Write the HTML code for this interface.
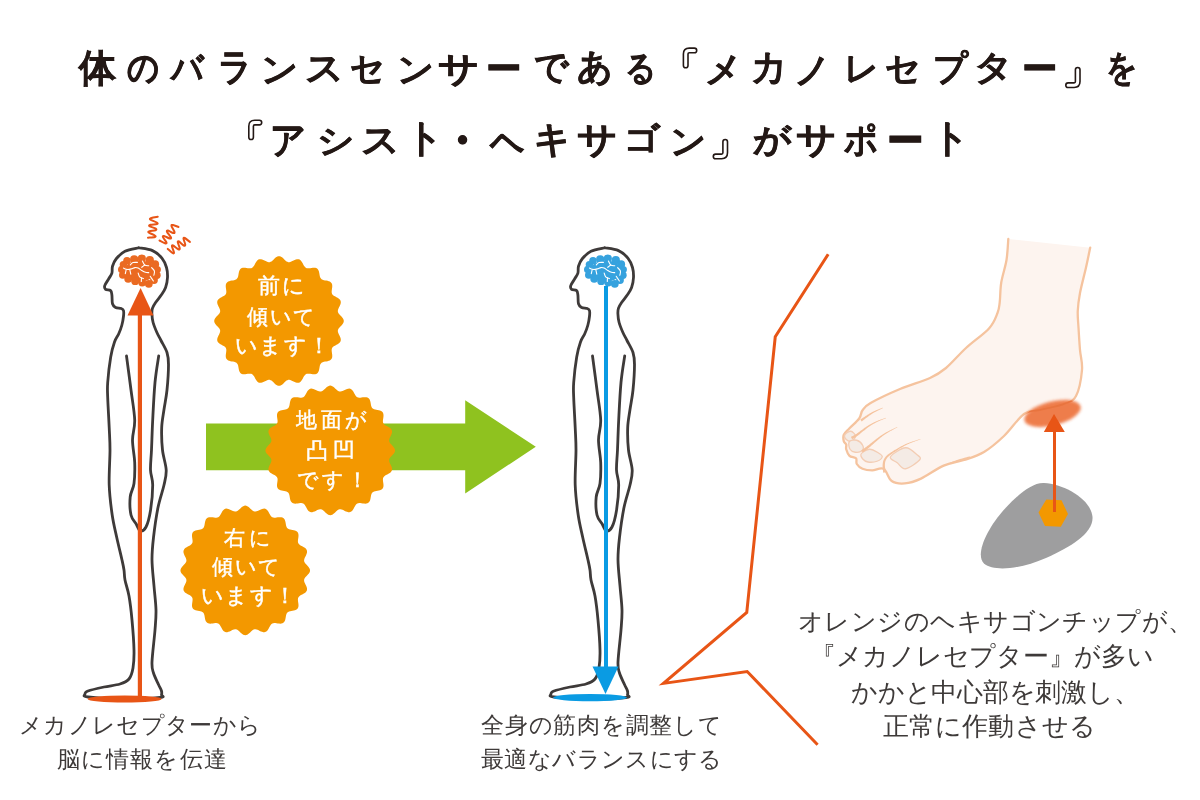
<!DOCTYPE html>
<html lang="ja"><head><meta charset="utf-8"><style>
html,body{margin:0;padding:0;background:#fff;}
body{width:1200px;height:800px;position:relative;overflow:hidden;font-family:"Liberation Sans",sans-serif;}
.t{position:absolute;font-size:100px;font-weight:bold;color:#231815;line-height:100px;transform-origin:0 0;white-space:nowrap;-webkit-text-stroke:1.5px #231815;}
.b{position:absolute;color:#fff;white-space:nowrap;-webkit-text-stroke:0.45px #fff;will-change:transform;}
.c{position:absolute;color:#3e3a39;white-space:nowrap;will-change:transform;}
</style></head><body>
<svg width="1200" height="800" viewBox="0 0 1200 800" style="position:absolute;left:0;top:0">
<path d="M206,423.5 L465.2,423.5 L465.2,400.2 L535.8,446.8 L465.2,493.5 L465.2,470.25 L206,470.25 Z" fill="#8fc21f"/>
<g><path d="M138.75,247.75 C141.04,248.22 148.64,248.88 152.50,250.60 C156.36,252.32 159.57,255.28 161.90,258.10 C164.23,260.92 165.57,264.27 166.50,267.50 C167.43,270.73 167.65,274.17 167.50,277.50 C167.35,280.83 166.64,284.58 165.60,287.50 C164.56,290.42 162.92,292.50 161.25,295.00 C159.58,297.50 157.06,300.32 155.60,302.50 C154.14,304.68 153.12,306.23 152.50,308.10 C151.88,309.98 151.80,311.35 151.90,313.75 C152.00,316.15 152.27,319.38 153.10,322.50 C153.93,325.62 155.58,329.50 156.90,332.50 C158.22,335.50 159.32,337.17 161.00,340.50 C162.68,343.83 165.75,348.50 167.00,352.50 C168.25,356.50 168.50,358.25 168.50,364.50 C168.50,370.75 167.75,382.50 167.00,390.00 C166.25,397.50 164.88,403.25 164.00,409.50 C163.12,415.75 161.95,420.75 161.70,427.50 C161.45,434.25 161.75,442.92 162.50,450.00 C163.25,457.08 165.95,464.17 166.20,470.00 C166.45,475.83 165.37,478.75 164.00,485.00 C162.63,491.25 159.75,498.75 158.00,507.50 C156.25,516.25 154.50,528.75 153.50,537.50 C152.50,546.25 151.92,551.92 152.00,560.00 C152.08,568.08 153.33,577.67 154.00,586.00 C154.67,594.33 155.83,602.67 156.00,610.00 C156.17,617.33 155.67,621.33 155.00,630.00 C154.33,638.67 152.25,654.83 152.00,662.00 C151.75,669.17 152.42,669.25 153.50,673.00 C154.58,676.75 157.17,681.50 158.50,684.50 C159.83,687.50 161.00,689.25 161.50,691.00 C162.00,692.75 161.75,693.92 161.50,695.00 C161.25,696.08 166.25,696.83 160.00,697.50 C153.75,698.17 136.00,699.08 124.00,699.00 C112.00,698.92 94.50,697.83 88.00,697.00 C81.50,696.17 85.00,695.00 85.00,694.00 C85.00,693.00 84.83,692.17 88.00,691.00 C91.17,689.83 98.67,688.17 104.00,687.00 C109.33,685.83 115.83,685.33 120.00,684.00 C124.17,682.67 126.83,681.67 129.00,679.00 C131.17,676.33 132.17,672.83 133.00,668.00 C133.83,663.17 134.17,658.00 134.00,650.00 C133.83,642.00 132.83,629.00 132.00,620.00 C131.17,611.00 130.17,602.67 129.00,596.00 C127.83,589.33 125.83,584.33 125.00,580.00 C124.17,575.67 124.50,573.33 124.00,570.00 C123.50,566.67 123.21,565.42 122.00,560.00 C120.79,554.58 118.38,545.00 116.75,537.50 C115.12,530.00 113.46,523.75 112.20,515.00 C110.94,506.25 109.57,495.83 109.20,485.00 C108.83,474.17 110.00,459.58 110.00,450.00 C110.00,440.42 109.58,436.25 109.20,427.50 C108.82,418.75 107.95,405.00 107.70,397.50 C107.45,390.00 107.20,389.25 107.70,382.50 C108.20,375.75 109.57,363.75 110.70,357.00 C111.83,350.25 113.16,345.88 114.50,342.00 C115.84,338.12 117.52,336.58 118.75,333.75 C119.98,330.92 121.11,327.92 121.90,325.00 C122.69,322.08 123.23,318.65 123.50,316.25 C123.77,313.85 123.88,311.89 123.50,310.60 C123.12,309.31 122.57,309.02 121.25,308.50 C119.93,307.98 117.06,308.29 115.60,307.50 C114.14,306.71 113.12,305.83 112.50,303.75 C111.88,301.67 112.22,297.19 111.90,295.00 C111.58,292.81 111.65,291.53 110.60,290.60 C109.55,289.67 106.57,290.23 105.60,289.40 C104.62,288.57 104.22,287.38 104.75,285.60 C105.28,283.83 107.56,280.83 108.75,278.75 C109.94,276.67 111.28,275.18 111.90,273.10 C112.53,271.02 111.78,268.64 112.50,266.25 C113.22,263.86 114.17,261.25 116.25,258.75 C118.33,256.25 121.25,253.08 125.00,251.25 C128.75,249.42 136.46,248.33 138.75,247.75" fill="none" stroke="#3e3a39" stroke-width="2.8" stroke-linejoin="round" stroke-linecap="round"/>
<path d="M126.50,356.00 C127.25,361.67 129.63,379.33 131.00,390.00 C132.37,400.67 134.45,411.67 134.70,420.00 C134.95,428.33 132.50,432.92 132.50,440.00 C132.50,447.08 134.45,455.25 134.70,462.50 C134.95,469.75 134.75,477.75 134.00,483.50 C133.25,489.25 130.70,491.75 130.20,497.00 C129.70,502.25 130.00,510.50 131.00,515.00 C132.00,519.50 134.70,521.38 136.20,524.00 C137.70,526.62 138.37,530.20 140.00,530.70 C141.63,531.20 144.25,530.37 146.00,527.00 C147.75,523.63 149.38,517.50 150.50,510.50 C151.62,503.50 152.70,491.75 152.70,485.00 C152.70,478.25 150.70,475.83 150.50,470.00 C150.30,464.17 151.13,458.33 151.50,450.00 C151.87,441.67 152.12,431.25 152.70,420.00 C153.28,408.75 154.00,393.17 155.00,382.50 C156.00,371.83 158.08,360.42 158.70,356.00" fill="none" stroke="#3e3a39" stroke-width="2.8" stroke-linecap="round"/><g fill="#ea6a22"><ellipse cx="139.8" cy="271" rx="15.5" ry="10.5"/><circle cx="127" cy="260.8" r="3.8"/><circle cx="134.2" cy="259.3" r="4.1"/><circle cx="141.8" cy="258.6" r="4.1"/><circle cx="149.8" cy="260.2" r="4.1"/><circle cx="155.2" cy="264.2" r="3.9"/><circle cx="157.2" cy="269.6" r="3.7"/><circle cx="157" cy="275.2" r="3.7"/><circle cx="154" cy="280" r="3.9"/><circle cx="148.8" cy="283.8" r="3.9"/><circle cx="142.2" cy="282.6" r="3.9"/><circle cx="135.2" cy="281.2" r="3.9"/><circle cx="128.2" cy="278.8" r="3.9"/><circle cx="122.8" cy="275" r="3.8"/><circle cx="121.8" cy="269.6" r="3.8"/><circle cx="123.4" cy="264.6" r="3.7"/></g><g fill="none" stroke="#fff" stroke-width="1.1" stroke-linecap="round" stroke-linejoin="round"><path d="M130.30,265.00 C130.75,264.60 131.82,263.03 133.00,262.60 C134.18,262.17 136.67,262.43 137.40,262.40"/><path d="M123.50,268.10 C124.10,268.32 125.80,269.27 127.10,269.40 C128.40,269.53 129.98,269.20 131.30,268.90 C132.62,268.60 133.85,267.73 135.00,267.60 C136.15,267.47 137.07,267.62 138.20,268.10 C139.33,268.58 140.58,269.80 141.80,270.50 C143.02,271.20 144.35,271.95 145.50,272.30 C146.65,272.65 148.17,272.55 148.70,272.60"/><path d="M126.10,270.00 C125.97,270.60 125.43,273.00 125.30,273.60"/><path d="M129.80,269.70 C129.97,270.45 130.63,273.45 130.80,274.20"/><path d="M142.40,261.00 C142.78,261.67 143.65,264.20 144.70,265.00 C145.75,265.80 148.03,265.67 148.70,265.80"/><path d="M144.70,265.00 C144.22,265.38 142.28,266.92 141.80,267.30"/><path d="M151.60,267.60 C152.07,268.17 154.02,269.73 154.40,271.00 C154.78,272.27 153.98,274.50 153.90,275.20"/><path d="M138.20,273.10 C138.45,273.72 138.83,275.88 139.70,276.80 C140.57,277.72 142.78,278.30 143.40,278.60"/><path d="M141.50,277.80 C141.47,278.42 141.33,280.88 141.30,281.50"/><path d="M150.20,276.30 C150.73,277.08 152.87,280.22 153.40,281.00"/></g></g>
<rect x="137.8" y="312" width="4.2" height="384" fill="#e85516"/>
<path d="M140.6,288 L127.5,315.6 L153.5,315.6 Z" fill="#e85516"/>
<ellipse cx="124.6" cy="699" rx="37" ry="3.6" fill="#e85516"/>
<g fill="none" stroke="#e85516" stroke-width="2.0" stroke-linecap="round" stroke-linejoin="round">
<path d="M157.75,216.75 C156.71,216.96 152.75,217.54 151.50,218.00 C150.25,218.46 149.38,218.75 150.25,219.50 C151.12,220.25 155.62,221.75 156.75,222.50 C157.88,223.25 158.04,223.62 157.00,224.00 C155.96,224.38 151.75,224.38 150.50,224.75 C149.25,225.12 148.62,225.62 149.50,226.25 C150.38,226.88 154.75,227.83 155.75,228.50 C156.75,229.17 156.54,229.79 155.50,230.25 C154.46,230.71 150.62,230.88 149.50,231.25 C148.38,231.62 147.88,231.79 148.75,232.50 C149.62,233.21 153.71,234.75 154.75,235.50 C155.79,236.25 156.12,236.62 155.00,237.00 C153.88,237.38 149.17,237.62 148.00,237.75"/>
<path d="M178.50,227.00 C177.58,226.67 174.17,225.17 173.00,225.00 C171.83,224.83 171.25,224.83 171.50,226.00 C171.75,227.17 174.21,230.83 174.50,232.00 C174.79,233.17 174.33,233.25 173.25,233.00 C172.17,232.75 169.04,230.71 168.00,230.50 C166.96,230.29 166.50,230.58 167.00,231.75 C167.50,232.92 170.54,236.38 171.00,237.50 C171.46,238.62 170.92,238.75 169.75,238.50 C168.58,238.25 165.12,236.21 164.00,236.00 C162.88,235.79 162.58,236.17 163.00,237.25 C163.42,238.33 166.17,241.50 166.50,242.50 C166.83,243.50 166.17,243.58 165.00,243.25 C163.83,242.92 160.42,240.96 159.50,240.50"/>
<path d="M190.00,242.00 C189.12,241.33 185.83,238.54 184.75,238.00 C183.67,237.46 183.42,237.67 183.50,238.75 C183.58,239.83 185.21,243.38 185.25,244.50 C185.29,245.62 184.79,246.00 183.75,245.50 C182.71,245.00 180.00,242.04 179.00,241.50 C178.00,240.96 177.62,241.12 177.75,242.25 C177.88,243.38 179.67,247.08 179.75,248.25 C179.83,249.42 179.38,249.71 178.25,249.25 C177.12,248.79 174.04,245.96 173.00,245.50 C171.96,245.04 171.83,245.33 172.00,246.50 C172.17,247.67 173.92,251.42 174.00,252.50 C174.08,253.58 173.54,253.60 172.50,253.00 C171.46,252.40 168.54,249.58 167.75,248.90"/>
</g>
<g transform="translate(466,0)"><path d="M138.75,247.75 C141.04,248.22 148.64,248.88 152.50,250.60 C156.36,252.32 159.57,255.28 161.90,258.10 C164.23,260.92 165.57,264.27 166.50,267.50 C167.43,270.73 167.65,274.17 167.50,277.50 C167.35,280.83 166.64,284.58 165.60,287.50 C164.56,290.42 162.92,292.50 161.25,295.00 C159.58,297.50 157.06,300.32 155.60,302.50 C154.14,304.68 153.12,306.23 152.50,308.10 C151.88,309.98 151.80,311.35 151.90,313.75 C152.00,316.15 152.27,319.38 153.10,322.50 C153.93,325.62 155.58,329.50 156.90,332.50 C158.22,335.50 159.32,337.17 161.00,340.50 C162.68,343.83 165.75,348.50 167.00,352.50 C168.25,356.50 168.50,358.25 168.50,364.50 C168.50,370.75 167.75,382.50 167.00,390.00 C166.25,397.50 164.88,403.25 164.00,409.50 C163.12,415.75 161.95,420.75 161.70,427.50 C161.45,434.25 161.75,442.92 162.50,450.00 C163.25,457.08 165.95,464.17 166.20,470.00 C166.45,475.83 165.37,478.75 164.00,485.00 C162.63,491.25 159.75,498.75 158.00,507.50 C156.25,516.25 154.50,528.75 153.50,537.50 C152.50,546.25 151.92,551.92 152.00,560.00 C152.08,568.08 153.33,577.67 154.00,586.00 C154.67,594.33 155.83,602.67 156.00,610.00 C156.17,617.33 155.67,621.33 155.00,630.00 C154.33,638.67 152.25,654.83 152.00,662.00 C151.75,669.17 152.42,669.25 153.50,673.00 C154.58,676.75 157.17,681.50 158.50,684.50 C159.83,687.50 161.00,689.25 161.50,691.00 C162.00,692.75 161.75,693.92 161.50,695.00 C161.25,696.08 166.25,696.83 160.00,697.50 C153.75,698.17 136.00,699.08 124.00,699.00 C112.00,698.92 94.50,697.83 88.00,697.00 C81.50,696.17 85.00,695.00 85.00,694.00 C85.00,693.00 84.83,692.17 88.00,691.00 C91.17,689.83 98.67,688.17 104.00,687.00 C109.33,685.83 115.83,685.33 120.00,684.00 C124.17,682.67 126.83,681.67 129.00,679.00 C131.17,676.33 132.17,672.83 133.00,668.00 C133.83,663.17 134.17,658.00 134.00,650.00 C133.83,642.00 132.83,629.00 132.00,620.00 C131.17,611.00 130.17,602.67 129.00,596.00 C127.83,589.33 125.83,584.33 125.00,580.00 C124.17,575.67 124.50,573.33 124.00,570.00 C123.50,566.67 123.21,565.42 122.00,560.00 C120.79,554.58 118.38,545.00 116.75,537.50 C115.12,530.00 113.46,523.75 112.20,515.00 C110.94,506.25 109.57,495.83 109.20,485.00 C108.83,474.17 110.00,459.58 110.00,450.00 C110.00,440.42 109.58,436.25 109.20,427.50 C108.82,418.75 107.95,405.00 107.70,397.50 C107.45,390.00 107.20,389.25 107.70,382.50 C108.20,375.75 109.57,363.75 110.70,357.00 C111.83,350.25 113.16,345.88 114.50,342.00 C115.84,338.12 117.52,336.58 118.75,333.75 C119.98,330.92 121.11,327.92 121.90,325.00 C122.69,322.08 123.23,318.65 123.50,316.25 C123.77,313.85 123.88,311.89 123.50,310.60 C123.12,309.31 122.57,309.02 121.25,308.50 C119.93,307.98 117.06,308.29 115.60,307.50 C114.14,306.71 113.12,305.83 112.50,303.75 C111.88,301.67 112.22,297.19 111.90,295.00 C111.58,292.81 111.65,291.53 110.60,290.60 C109.55,289.67 106.57,290.23 105.60,289.40 C104.62,288.57 104.22,287.38 104.75,285.60 C105.28,283.83 107.56,280.83 108.75,278.75 C109.94,276.67 111.28,275.18 111.90,273.10 C112.53,271.02 111.78,268.64 112.50,266.25 C113.22,263.86 114.17,261.25 116.25,258.75 C118.33,256.25 121.25,253.08 125.00,251.25 C128.75,249.42 136.46,248.33 138.75,247.75" fill="none" stroke="#3e3a39" stroke-width="2.8" stroke-linejoin="round" stroke-linecap="round"/>
<path d="M126.50,356.00 C127.25,361.67 129.63,379.33 131.00,390.00 C132.37,400.67 134.45,411.67 134.70,420.00 C134.95,428.33 132.50,432.92 132.50,440.00 C132.50,447.08 134.45,455.25 134.70,462.50 C134.95,469.75 134.75,477.75 134.00,483.50 C133.25,489.25 130.70,491.75 130.20,497.00 C129.70,502.25 130.00,510.50 131.00,515.00 C132.00,519.50 134.70,521.38 136.20,524.00 C137.70,526.62 138.37,530.20 140.00,530.70 C141.63,531.20 144.25,530.37 146.00,527.00 C147.75,523.63 149.38,517.50 150.50,510.50 C151.62,503.50 152.70,491.75 152.70,485.00 C152.70,478.25 150.70,475.83 150.50,470.00 C150.30,464.17 151.13,458.33 151.50,450.00 C151.87,441.67 152.12,431.25 152.70,420.00 C153.28,408.75 154.00,393.17 155.00,382.50 C156.00,371.83 158.08,360.42 158.70,356.00" fill="none" stroke="#3e3a39" stroke-width="2.8" stroke-linecap="round"/><g fill="#36a2de"><ellipse cx="139.8" cy="271" rx="15.5" ry="10.5"/><circle cx="127" cy="260.8" r="3.8"/><circle cx="134.2" cy="259.3" r="4.1"/><circle cx="141.8" cy="258.6" r="4.1"/><circle cx="149.8" cy="260.2" r="4.1"/><circle cx="155.2" cy="264.2" r="3.9"/><circle cx="157.2" cy="269.6" r="3.7"/><circle cx="157" cy="275.2" r="3.7"/><circle cx="154" cy="280" r="3.9"/><circle cx="148.8" cy="283.8" r="3.9"/><circle cx="142.2" cy="282.6" r="3.9"/><circle cx="135.2" cy="281.2" r="3.9"/><circle cx="128.2" cy="278.8" r="3.9"/><circle cx="122.8" cy="275" r="3.8"/><circle cx="121.8" cy="269.6" r="3.8"/><circle cx="123.4" cy="264.6" r="3.7"/></g><g fill="none" stroke="#fff" stroke-width="1.1" stroke-linecap="round" stroke-linejoin="round"><path d="M130.30,265.00 C130.75,264.60 131.82,263.03 133.00,262.60 C134.18,262.17 136.67,262.43 137.40,262.40"/><path d="M123.50,268.10 C124.10,268.32 125.80,269.27 127.10,269.40 C128.40,269.53 129.98,269.20 131.30,268.90 C132.62,268.60 133.85,267.73 135.00,267.60 C136.15,267.47 137.07,267.62 138.20,268.10 C139.33,268.58 140.58,269.80 141.80,270.50 C143.02,271.20 144.35,271.95 145.50,272.30 C146.65,272.65 148.17,272.55 148.70,272.60"/><path d="M126.10,270.00 C125.97,270.60 125.43,273.00 125.30,273.60"/><path d="M129.80,269.70 C129.97,270.45 130.63,273.45 130.80,274.20"/><path d="M142.40,261.00 C142.78,261.67 143.65,264.20 144.70,265.00 C145.75,265.80 148.03,265.67 148.70,265.80"/><path d="M144.70,265.00 C144.22,265.38 142.28,266.92 141.80,267.30"/><path d="M151.60,267.60 C152.07,268.17 154.02,269.73 154.40,271.00 C154.78,272.27 153.98,274.50 153.90,275.20"/><path d="M138.20,273.10 C138.45,273.72 138.83,275.88 139.70,276.80 C140.57,277.72 142.78,278.30 143.40,278.60"/><path d="M141.50,277.80 C141.47,278.42 141.33,280.88 141.30,281.50"/><path d="M150.20,276.30 C150.73,277.08 152.87,280.22 153.40,281.00"/></g></g>
<rect x="604" y="286" width="4" height="382" fill="#0a9be3"/>
<path d="M592.5,666.5 L618.5,666.5 L605.5,694 Z" fill="#0a9be3"/>
<ellipse cx="590" cy="697.6" rx="37" ry="3.6" fill="#0a9be3"/>
<path d="M279.00,256.20 L280.02,256.34 L281.02,256.73 L282.00,257.34 L282.96,258.12 L283.88,258.99 L284.78,259.88 L285.66,260.69 L286.53,261.38 L287.42,261.87 L288.32,262.13 L289.27,262.16 L290.26,261.97 L291.30,261.59 L292.39,261.08 L293.52,260.52 L294.67,259.98 L295.82,259.53 L296.94,259.25 L298.02,259.19 L299.02,259.37 L299.95,259.81 L300.78,260.50 L301.53,261.39 L302.19,262.42 L302.80,263.53 L303.38,264.65 L303.97,265.70 L304.59,266.62 L305.28,267.36 L306.06,267.90 L306.95,268.22 L307.95,268.34 L309.06,268.30 L310.25,268.15 L311.50,267.97 L312.76,267.80 L313.99,267.74 L315.14,267.82 L316.19,268.09 L317.09,268.58 L317.83,269.28 L318.41,270.19 L318.85,271.26 L319.16,272.46 L319.40,273.70 L319.60,274.95 L319.83,276.13 L320.14,277.19 L320.56,278.11 L321.14,278.86 L321.89,279.44 L322.81,279.86 L323.87,280.17 L325.05,280.40 L326.30,280.60 L327.54,280.84 L328.74,281.15 L329.81,281.59 L330.72,282.17 L331.42,282.91 L331.91,283.81 L332.18,284.86 L332.26,286.01 L332.20,287.24 L332.03,288.50 L331.85,289.75 L331.70,290.94 L331.66,292.05 L331.78,293.05 L332.10,293.94 L332.64,294.72 L333.38,295.41 L334.30,296.03 L335.35,296.62 L336.47,297.20 L337.58,297.81 L338.61,298.47 L339.50,299.22 L340.19,300.05 L340.63,300.98 L340.81,301.98 L340.75,303.06 L340.47,304.18 L340.02,305.33 L339.48,306.48 L338.92,307.61 L338.41,308.70 L338.03,309.74 L337.84,310.73 L337.87,311.68 L338.13,312.58 L338.62,313.47 L339.31,314.34 L340.12,315.22 L341.01,316.12 L341.88,317.04 L342.66,318.00 L343.27,318.98 L343.66,319.98 L343.80,321.00 L343.66,322.02 L343.27,323.02 L342.66,324.00 L341.88,324.96 L341.01,325.88 L340.12,326.78 L339.31,327.66 L338.62,328.53 L338.13,329.42 L337.87,330.32 L337.84,331.27 L338.03,332.26 L338.41,333.30 L338.92,334.39 L339.48,335.52 L340.02,336.67 L340.47,337.82 L340.75,338.94 L340.81,340.02 L340.63,341.02 L340.19,341.95 L339.50,342.78 L338.61,343.53 L337.58,344.19 L336.47,344.80 L335.35,345.38 L334.30,345.97 L333.38,346.59 L332.64,347.28 L332.10,348.06 L331.78,348.95 L331.66,349.95 L331.70,351.06 L331.85,352.25 L332.03,353.50 L332.20,354.76 L332.26,355.99 L332.18,357.14 L331.91,358.19 L331.42,359.09 L330.72,359.83 L329.81,360.41 L328.74,360.85 L327.54,361.16 L326.30,361.40 L325.05,361.60 L323.87,361.83 L322.81,362.14 L321.89,362.56 L321.14,363.14 L320.56,363.89 L320.14,364.81 L319.83,365.87 L319.60,367.05 L319.40,368.30 L319.16,369.54 L318.85,370.74 L318.41,371.81 L317.83,372.72 L317.09,373.42 L316.19,373.91 L315.14,374.18 L313.99,374.26 L312.76,374.20 L311.50,374.03 L310.25,373.85 L309.06,373.70 L307.95,373.66 L306.95,373.78 L306.06,374.10 L305.28,374.64 L304.59,375.38 L303.97,376.30 L303.38,377.35 L302.80,378.47 L302.19,379.58 L301.53,380.61 L300.78,381.50 L299.95,382.19 L299.02,382.63 L298.02,382.81 L296.94,382.75 L295.82,382.47 L294.67,382.02 L293.52,381.48 L292.39,380.92 L291.30,380.41 L290.26,380.03 L289.27,379.84 L288.32,379.87 L287.42,380.13 L286.53,380.62 L285.66,381.31 L284.78,382.12 L283.88,383.01 L282.96,383.88 L282.00,384.66 L281.02,385.27 L280.02,385.66 L279.00,385.80 L277.98,385.66 L276.98,385.27 L276.00,384.66 L275.04,383.88 L274.12,383.01 L273.22,382.12 L272.34,381.31 L271.47,380.62 L270.58,380.13 L269.68,379.87 L268.73,379.84 L267.74,380.03 L266.70,380.41 L265.61,380.92 L264.48,381.48 L263.33,382.02 L262.18,382.47 L261.06,382.75 L259.98,382.81 L258.98,382.63 L258.05,382.19 L257.22,381.50 L256.47,380.61 L255.81,379.58 L255.20,378.47 L254.62,377.35 L254.03,376.30 L253.41,375.38 L252.72,374.64 L251.94,374.10 L251.05,373.78 L250.05,373.66 L248.94,373.70 L247.75,373.85 L246.50,374.03 L245.24,374.20 L244.01,374.26 L242.86,374.18 L241.81,373.91 L240.91,373.42 L240.17,372.72 L239.59,371.81 L239.15,370.74 L238.84,369.54 L238.60,368.30 L238.40,367.05 L238.17,365.87 L237.86,364.81 L237.44,363.89 L236.86,363.14 L236.11,362.56 L235.19,362.14 L234.13,361.83 L232.95,361.60 L231.70,361.40 L230.46,361.16 L229.26,360.85 L228.19,360.41 L227.28,359.83 L226.58,359.09 L226.09,358.19 L225.82,357.14 L225.74,355.99 L225.80,354.76 L225.97,353.50 L226.15,352.25 L226.30,351.06 L226.34,349.95 L226.22,348.95 L225.90,348.06 L225.36,347.28 L224.62,346.59 L223.70,345.97 L222.65,345.38 L221.53,344.80 L220.42,344.19 L219.39,343.53 L218.50,342.78 L217.81,341.95 L217.37,341.02 L217.19,340.02 L217.25,338.94 L217.53,337.82 L217.98,336.67 L218.52,335.52 L219.08,334.39 L219.59,333.30 L219.97,332.26 L220.16,331.27 L220.13,330.32 L219.87,329.42 L219.38,328.53 L218.69,327.66 L217.88,326.78 L216.99,325.88 L216.12,324.96 L215.34,324.00 L214.73,323.02 L214.34,322.02 L214.20,321.00 L214.34,319.98 L214.73,318.98 L215.34,318.00 L216.12,317.04 L216.99,316.12 L217.88,315.22 L218.69,314.34 L219.38,313.47 L219.87,312.58 L220.13,311.68 L220.16,310.73 L219.97,309.74 L219.59,308.70 L219.08,307.61 L218.52,306.48 L217.98,305.33 L217.53,304.18 L217.25,303.06 L217.19,301.98 L217.37,300.98 L217.81,300.05 L218.50,299.22 L219.39,298.47 L220.42,297.81 L221.53,297.20 L222.65,296.62 L223.70,296.03 L224.62,295.41 L225.36,294.72 L225.90,293.94 L226.22,293.05 L226.34,292.05 L226.30,290.94 L226.15,289.75 L225.97,288.50 L225.80,287.24 L225.74,286.01 L225.82,284.86 L226.09,283.81 L226.58,282.91 L227.28,282.17 L228.19,281.59 L229.26,281.15 L230.46,280.84 L231.70,280.60 L232.95,280.40 L234.13,280.17 L235.19,279.86 L236.11,279.44 L236.86,278.86 L237.44,278.11 L237.86,277.19 L238.17,276.13 L238.40,274.95 L238.60,273.70 L238.84,272.46 L239.15,271.26 L239.59,270.19 L240.17,269.28 L240.91,268.58 L241.81,268.09 L242.86,267.82 L244.01,267.74 L245.24,267.80 L246.50,267.97 L247.75,268.15 L248.94,268.30 L250.05,268.34 L251.05,268.22 L251.94,267.90 L252.72,267.36 L253.41,266.62 L254.03,265.70 L254.62,264.65 L255.20,263.53 L255.81,262.42 L256.47,261.39 L257.22,260.50 L258.05,259.81 L258.98,259.37 L259.98,259.19 L261.06,259.25 L262.18,259.53 L263.33,259.98 L264.48,260.52 L265.61,261.08 L266.70,261.59 L267.74,261.97 L268.73,262.16 L269.68,262.13 L270.58,261.87 L271.47,261.38 L272.34,260.69 L273.22,259.88 L274.12,258.99 L275.04,258.12 L276.00,257.34 L276.98,256.73 L277.98,256.34 Z" fill="#f39800"/>
<path d="M330.25,385.60 L331.27,385.74 L332.27,386.13 L333.25,386.74 L334.21,387.52 L335.13,388.39 L336.03,389.28 L336.91,390.09 L337.78,390.78 L338.67,391.27 L339.57,391.53 L340.52,391.56 L341.51,391.37 L342.55,390.99 L343.64,390.48 L344.77,389.92 L345.92,389.38 L347.07,388.93 L348.19,388.65 L349.27,388.59 L350.27,388.77 L351.20,389.21 L352.03,389.90 L352.78,390.79 L353.44,391.82 L354.05,392.93 L354.63,394.05 L355.22,395.10 L355.84,396.02 L356.53,396.76 L357.31,397.30 L358.20,397.62 L359.20,397.74 L360.31,397.70 L361.50,397.55 L362.75,397.37 L364.01,397.20 L365.24,397.14 L366.39,397.22 L367.44,397.49 L368.34,397.98 L369.08,398.68 L369.66,399.59 L370.10,400.66 L370.41,401.86 L370.65,403.10 L370.85,404.35 L371.08,405.53 L371.39,406.59 L371.81,407.51 L372.39,408.26 L373.14,408.84 L374.06,409.26 L375.12,409.57 L376.30,409.80 L377.55,410.00 L378.79,410.24 L379.99,410.55 L381.06,410.99 L381.97,411.57 L382.67,412.31 L383.16,413.21 L383.43,414.26 L383.51,415.41 L383.45,416.64 L383.28,417.90 L383.10,419.15 L382.95,420.34 L382.91,421.45 L383.03,422.45 L383.35,423.34 L383.89,424.12 L384.63,424.81 L385.55,425.43 L386.60,426.02 L387.72,426.60 L388.83,427.21 L389.86,427.87 L390.75,428.62 L391.44,429.45 L391.88,430.38 L392.06,431.38 L392.00,432.46 L391.72,433.58 L391.27,434.73 L390.73,435.88 L390.17,437.01 L389.66,438.10 L389.28,439.14 L389.09,440.13 L389.12,441.08 L389.38,441.98 L389.87,442.87 L390.56,443.74 L391.37,444.62 L392.26,445.52 L393.13,446.44 L393.91,447.40 L394.52,448.38 L394.91,449.38 L395.05,450.40 L394.91,451.42 L394.52,452.42 L393.91,453.40 L393.13,454.36 L392.26,455.28 L391.37,456.18 L390.56,457.06 L389.87,457.93 L389.38,458.82 L389.12,459.72 L389.09,460.67 L389.28,461.66 L389.66,462.70 L390.17,463.79 L390.73,464.92 L391.27,466.07 L391.72,467.22 L392.00,468.34 L392.06,469.42 L391.88,470.42 L391.44,471.35 L390.75,472.18 L389.86,472.93 L388.83,473.59 L387.72,474.20 L386.60,474.78 L385.55,475.37 L384.63,475.99 L383.89,476.68 L383.35,477.46 L383.03,478.35 L382.91,479.35 L382.95,480.46 L383.10,481.65 L383.28,482.90 L383.45,484.16 L383.51,485.39 L383.43,486.54 L383.16,487.59 L382.67,488.49 L381.97,489.23 L381.06,489.81 L379.99,490.25 L378.79,490.56 L377.55,490.80 L376.30,491.00 L375.12,491.23 L374.06,491.54 L373.14,491.96 L372.39,492.54 L371.81,493.29 L371.39,494.21 L371.08,495.27 L370.85,496.45 L370.65,497.70 L370.41,498.94 L370.10,500.14 L369.66,501.21 L369.08,502.12 L368.34,502.82 L367.44,503.31 L366.39,503.58 L365.24,503.66 L364.01,503.60 L362.75,503.43 L361.50,503.25 L360.31,503.10 L359.20,503.06 L358.20,503.18 L357.31,503.50 L356.53,504.04 L355.84,504.78 L355.22,505.70 L354.63,506.75 L354.05,507.87 L353.44,508.98 L352.78,510.01 L352.03,510.90 L351.20,511.59 L350.27,512.03 L349.27,512.21 L348.19,512.15 L347.07,511.87 L345.92,511.42 L344.77,510.88 L343.64,510.32 L342.55,509.81 L341.51,509.43 L340.52,509.24 L339.57,509.27 L338.67,509.53 L337.78,510.02 L336.91,510.71 L336.03,511.52 L335.13,512.41 L334.21,513.28 L333.25,514.06 L332.27,514.67 L331.27,515.06 L330.25,515.20 L329.23,515.06 L328.23,514.67 L327.25,514.06 L326.29,513.28 L325.37,512.41 L324.47,511.52 L323.59,510.71 L322.72,510.02 L321.83,509.53 L320.93,509.27 L319.98,509.24 L318.99,509.43 L317.95,509.81 L316.86,510.32 L315.73,510.88 L314.58,511.42 L313.43,511.87 L312.31,512.15 L311.23,512.21 L310.23,512.03 L309.30,511.59 L308.47,510.90 L307.72,510.01 L307.06,508.98 L306.45,507.87 L305.87,506.75 L305.28,505.70 L304.66,504.78 L303.97,504.04 L303.19,503.50 L302.30,503.18 L301.30,503.06 L300.19,503.10 L299.00,503.25 L297.75,503.43 L296.49,503.60 L295.26,503.66 L294.11,503.58 L293.06,503.31 L292.16,502.82 L291.42,502.12 L290.84,501.21 L290.40,500.14 L290.09,498.94 L289.85,497.70 L289.65,496.45 L289.42,495.27 L289.11,494.21 L288.69,493.29 L288.11,492.54 L287.36,491.96 L286.44,491.54 L285.38,491.23 L284.20,491.00 L282.95,490.80 L281.71,490.56 L280.51,490.25 L279.44,489.81 L278.53,489.23 L277.83,488.49 L277.34,487.59 L277.07,486.54 L276.99,485.39 L277.05,484.16 L277.22,482.90 L277.40,481.65 L277.55,480.46 L277.59,479.35 L277.47,478.35 L277.15,477.46 L276.61,476.68 L275.87,475.99 L274.95,475.37 L273.90,474.78 L272.78,474.20 L271.67,473.59 L270.64,472.93 L269.75,472.18 L269.06,471.35 L268.62,470.42 L268.44,469.42 L268.50,468.34 L268.78,467.22 L269.23,466.07 L269.77,464.92 L270.33,463.79 L270.84,462.70 L271.22,461.66 L271.41,460.67 L271.38,459.72 L271.12,458.82 L270.63,457.93 L269.94,457.06 L269.13,456.18 L268.24,455.28 L267.37,454.36 L266.59,453.40 L265.98,452.42 L265.59,451.42 L265.45,450.40 L265.59,449.38 L265.98,448.38 L266.59,447.40 L267.37,446.44 L268.24,445.52 L269.13,444.62 L269.94,443.74 L270.63,442.87 L271.12,441.98 L271.38,441.08 L271.41,440.13 L271.22,439.14 L270.84,438.10 L270.33,437.01 L269.77,435.88 L269.23,434.73 L268.78,433.58 L268.50,432.46 L268.44,431.38 L268.62,430.38 L269.06,429.45 L269.75,428.62 L270.64,427.87 L271.67,427.21 L272.78,426.60 L273.90,426.02 L274.95,425.43 L275.87,424.81 L276.61,424.12 L277.15,423.34 L277.47,422.45 L277.59,421.45 L277.55,420.34 L277.40,419.15 L277.22,417.90 L277.05,416.64 L276.99,415.41 L277.07,414.26 L277.34,413.21 L277.83,412.31 L278.53,411.57 L279.44,410.99 L280.51,410.55 L281.71,410.24 L282.95,410.00 L284.20,409.80 L285.38,409.57 L286.44,409.26 L287.36,408.84 L288.11,408.26 L288.69,407.51 L289.11,406.59 L289.42,405.53 L289.65,404.35 L289.85,403.10 L290.09,401.86 L290.40,400.66 L290.84,399.59 L291.42,398.68 L292.16,397.98 L293.06,397.49 L294.11,397.22 L295.26,397.14 L296.49,397.20 L297.75,397.37 L299.00,397.55 L300.19,397.70 L301.30,397.74 L302.30,397.62 L303.19,397.30 L303.97,396.76 L304.66,396.02 L305.28,395.10 L305.87,394.05 L306.45,392.93 L307.06,391.82 L307.72,390.79 L308.47,389.90 L309.30,389.21 L310.23,388.77 L311.23,388.59 L312.31,388.65 L313.43,388.93 L314.58,389.38 L315.73,389.92 L316.86,390.48 L317.95,390.99 L318.99,391.37 L319.98,391.56 L320.93,391.53 L321.83,391.27 L322.72,390.78 L323.59,390.09 L324.47,389.28 L325.37,388.39 L326.29,387.52 L327.25,386.74 L328.23,386.13 L329.23,385.74 Z" fill="#f39800"/>
<path d="M245.25,505.60 L246.27,505.74 L247.27,506.13 L248.25,506.74 L249.21,507.52 L250.13,508.39 L251.03,509.28 L251.91,510.09 L252.78,510.78 L253.67,511.27 L254.57,511.53 L255.52,511.56 L256.51,511.37 L257.55,510.99 L258.64,510.48 L259.77,509.92 L260.92,509.38 L262.07,508.93 L263.19,508.65 L264.27,508.59 L265.27,508.77 L266.20,509.21 L267.03,509.90 L267.78,510.79 L268.44,511.82 L269.05,512.93 L269.63,514.05 L270.22,515.10 L270.84,516.02 L271.53,516.76 L272.31,517.30 L273.20,517.62 L274.20,517.74 L275.31,517.70 L276.50,517.55 L277.75,517.37 L279.01,517.20 L280.24,517.14 L281.39,517.22 L282.44,517.49 L283.34,517.98 L284.08,518.68 L284.66,519.59 L285.10,520.66 L285.41,521.86 L285.65,523.10 L285.85,524.35 L286.08,525.53 L286.39,526.59 L286.81,527.51 L287.39,528.26 L288.14,528.84 L289.06,529.26 L290.12,529.57 L291.30,529.80 L292.55,530.00 L293.79,530.24 L294.99,530.55 L296.06,530.99 L296.97,531.57 L297.67,532.31 L298.16,533.21 L298.43,534.26 L298.51,535.41 L298.45,536.64 L298.28,537.90 L298.10,539.15 L297.95,540.34 L297.91,541.45 L298.03,542.45 L298.35,543.34 L298.89,544.12 L299.63,544.81 L300.55,545.43 L301.60,546.02 L302.72,546.60 L303.83,547.21 L304.86,547.87 L305.75,548.62 L306.44,549.45 L306.88,550.38 L307.06,551.38 L307.00,552.46 L306.72,553.58 L306.27,554.73 L305.73,555.88 L305.17,557.01 L304.66,558.10 L304.28,559.14 L304.09,560.13 L304.12,561.08 L304.38,561.98 L304.87,562.87 L305.56,563.74 L306.37,564.62 L307.26,565.52 L308.13,566.44 L308.91,567.40 L309.52,568.38 L309.91,569.38 L310.05,570.40 L309.91,571.42 L309.52,572.42 L308.91,573.40 L308.13,574.36 L307.26,575.28 L306.37,576.18 L305.56,577.06 L304.87,577.93 L304.38,578.82 L304.12,579.72 L304.09,580.67 L304.28,581.66 L304.66,582.70 L305.17,583.79 L305.73,584.92 L306.27,586.07 L306.72,587.22 L307.00,588.34 L307.06,589.42 L306.88,590.42 L306.44,591.35 L305.75,592.18 L304.86,592.93 L303.83,593.59 L302.72,594.20 L301.60,594.78 L300.55,595.37 L299.63,595.99 L298.89,596.68 L298.35,597.46 L298.03,598.35 L297.91,599.35 L297.95,600.46 L298.10,601.65 L298.28,602.90 L298.45,604.16 L298.51,605.39 L298.43,606.54 L298.16,607.59 L297.67,608.49 L296.97,609.23 L296.06,609.81 L294.99,610.25 L293.79,610.56 L292.55,610.80 L291.30,611.00 L290.12,611.23 L289.06,611.54 L288.14,611.96 L287.39,612.54 L286.81,613.29 L286.39,614.21 L286.08,615.27 L285.85,616.45 L285.65,617.70 L285.41,618.94 L285.10,620.14 L284.66,621.21 L284.08,622.12 L283.34,622.82 L282.44,623.31 L281.39,623.58 L280.24,623.66 L279.01,623.60 L277.75,623.43 L276.50,623.25 L275.31,623.10 L274.20,623.06 L273.20,623.18 L272.31,623.50 L271.53,624.04 L270.84,624.78 L270.22,625.70 L269.63,626.75 L269.05,627.87 L268.44,628.98 L267.78,630.01 L267.03,630.90 L266.20,631.59 L265.27,632.03 L264.27,632.21 L263.19,632.15 L262.07,631.87 L260.92,631.42 L259.77,630.88 L258.64,630.32 L257.55,629.81 L256.51,629.43 L255.52,629.24 L254.57,629.27 L253.67,629.53 L252.78,630.02 L251.91,630.71 L251.03,631.52 L250.13,632.41 L249.21,633.28 L248.25,634.06 L247.27,634.67 L246.27,635.06 L245.25,635.20 L244.23,635.06 L243.23,634.67 L242.25,634.06 L241.29,633.28 L240.37,632.41 L239.47,631.52 L238.59,630.71 L237.72,630.02 L236.83,629.53 L235.93,629.27 L234.98,629.24 L233.99,629.43 L232.95,629.81 L231.86,630.32 L230.73,630.88 L229.58,631.42 L228.43,631.87 L227.31,632.15 L226.23,632.21 L225.23,632.03 L224.30,631.59 L223.47,630.90 L222.72,630.01 L222.06,628.98 L221.45,627.87 L220.87,626.75 L220.28,625.70 L219.66,624.78 L218.97,624.04 L218.19,623.50 L217.30,623.18 L216.30,623.06 L215.19,623.10 L214.00,623.25 L212.75,623.43 L211.49,623.60 L210.26,623.66 L209.11,623.58 L208.06,623.31 L207.16,622.82 L206.42,622.12 L205.84,621.21 L205.40,620.14 L205.09,618.94 L204.85,617.70 L204.65,616.45 L204.42,615.27 L204.11,614.21 L203.69,613.29 L203.11,612.54 L202.36,611.96 L201.44,611.54 L200.38,611.23 L199.20,611.00 L197.95,610.80 L196.71,610.56 L195.51,610.25 L194.44,609.81 L193.53,609.23 L192.83,608.49 L192.34,607.59 L192.07,606.54 L191.99,605.39 L192.05,604.16 L192.22,602.90 L192.40,601.65 L192.55,600.46 L192.59,599.35 L192.47,598.35 L192.15,597.46 L191.61,596.68 L190.87,595.99 L189.95,595.37 L188.90,594.78 L187.78,594.20 L186.67,593.59 L185.64,592.93 L184.75,592.18 L184.06,591.35 L183.62,590.42 L183.44,589.42 L183.50,588.34 L183.78,587.22 L184.23,586.07 L184.77,584.92 L185.33,583.79 L185.84,582.70 L186.22,581.66 L186.41,580.67 L186.38,579.72 L186.12,578.82 L185.63,577.93 L184.94,577.06 L184.13,576.18 L183.24,575.28 L182.37,574.36 L181.59,573.40 L180.98,572.42 L180.59,571.42 L180.45,570.40 L180.59,569.38 L180.98,568.38 L181.59,567.40 L182.37,566.44 L183.24,565.52 L184.13,564.62 L184.94,563.74 L185.63,562.87 L186.12,561.98 L186.38,561.08 L186.41,560.13 L186.22,559.14 L185.84,558.10 L185.33,557.01 L184.77,555.88 L184.23,554.73 L183.78,553.58 L183.50,552.46 L183.44,551.38 L183.62,550.38 L184.06,549.45 L184.75,548.62 L185.64,547.87 L186.67,547.21 L187.78,546.60 L188.90,546.02 L189.95,545.43 L190.87,544.81 L191.61,544.12 L192.15,543.34 L192.47,542.45 L192.59,541.45 L192.55,540.34 L192.40,539.15 L192.22,537.90 L192.05,536.64 L191.99,535.41 L192.07,534.26 L192.34,533.21 L192.83,532.31 L193.53,531.57 L194.44,530.99 L195.51,530.55 L196.71,530.24 L197.95,530.00 L199.20,529.80 L200.38,529.57 L201.44,529.26 L202.36,528.84 L203.11,528.26 L203.69,527.51 L204.11,526.59 L204.42,525.53 L204.65,524.35 L204.85,523.10 L205.09,521.86 L205.40,520.66 L205.84,519.59 L206.42,518.68 L207.16,517.98 L208.06,517.49 L209.11,517.22 L210.26,517.14 L211.49,517.20 L212.75,517.37 L214.00,517.55 L215.19,517.70 L216.30,517.74 L217.30,517.62 L218.19,517.30 L218.97,516.76 L219.66,516.02 L220.28,515.10 L220.87,514.05 L221.45,512.93 L222.06,511.82 L222.72,510.79 L223.47,509.90 L224.30,509.21 L225.23,508.77 L226.23,508.59 L227.31,508.65 L228.43,508.93 L229.58,509.38 L230.73,509.92 L231.86,510.48 L232.95,510.99 L233.99,511.37 L234.98,511.56 L235.93,511.53 L236.83,511.27 L237.72,510.78 L238.59,510.09 L239.47,509.28 L240.37,508.39 L241.29,507.52 L242.25,506.74 L243.23,506.13 L244.23,505.74 Z" fill="#f39800"/>
<path d="M828.2,254.25 L775.25,336.75 L746.75,612.5 L663.5,683.4 L747.2,671.5 L817.6,744.8" fill="none" stroke="#e85516" stroke-width="3" stroke-linejoin="miter"/>
<path d="M1044,483 C1064,484 1091,499 1092.5,517 C1093.5,533 1071,547 1046,558 C1021,569 994,572 984,563.5 C975,555 986,529 1006,507.5 C1019,494 1032,482.5 1044,483 Z" fill="#9e9e9f"/>
<path d="M1008.30,239.00 C1008.00,242.50 1007.67,252.75 1006.50,260.00 C1005.33,267.25 1002.38,275.50 1001.25,282.50 C1000.12,289.50 1000.38,296.92 999.75,302.00 C999.12,307.08 999.29,308.58 997.50,313.00 C995.71,317.42 994.25,322.67 989.00,328.50 C983.75,334.33 973.17,341.42 966.00,348.00 C958.83,354.58 952.00,363.00 946.00,368.00 C940.00,373.00 937.67,374.50 930.00,378.00 C922.33,381.50 909.90,384.83 900.00,389.00 C890.10,393.17 876.85,399.45 870.60,403.00 C864.35,406.55 864.40,407.72 862.50,410.30 C860.60,412.88 861.37,415.52 859.20,418.50 C857.03,421.48 852.07,425.50 849.50,428.20 C846.93,430.90 844.75,432.53 843.80,434.70 C842.85,436.87 843.40,439.57 843.80,441.20 C844.20,442.83 845.80,443.15 846.20,444.50 C846.60,445.85 845.65,447.42 846.20,449.30 C846.75,451.18 847.87,454.30 849.50,455.80 C851.13,457.30 854.78,456.93 856.00,458.30 C857.22,459.67 855.72,462.25 856.80,464.00 C857.88,465.75 859.93,467.73 862.50,468.80 C865.07,469.87 868.68,470.40 872.20,470.40 C875.72,470.40 880.35,467.03 883.60,468.80 C886.85,470.57 888.18,478.57 891.70,481.00 C895.22,483.43 899.82,483.80 904.70,483.40 C909.58,483.00 914.50,481.57 921.00,478.60 C927.50,475.63 936.53,468.70 943.70,465.60 C950.87,462.50 957.28,462.27 964.00,460.00 C970.72,457.73 977.33,456.00 984.00,452.00 C990.67,448.00 997.33,442.33 1004.00,436.00 C1010.67,429.67 1018.00,418.33 1024.00,414.00 C1030.00,409.67 1033.33,411.67 1040.00,410.00 C1046.67,408.33 1058.00,406.33 1064.00,404.00 C1070.00,401.67 1073.00,401.67 1076.00,396.00 C1079.00,390.33 1081.33,377.67 1082.00,370.00 C1082.67,362.33 1080.58,357.08 1080.00,350.00 C1079.42,342.92 1078.88,334.00 1078.50,327.50 C1078.12,321.00 1077.50,316.75 1077.75,311.00 C1078.00,305.25 1078.62,300.25 1080.00,293.00 C1081.38,285.75 1084.30,275.05 1086.00,267.50 C1087.70,259.95 1089.50,251.00 1090.20,247.70 Z" fill="#fdf4ef" stroke="none"/>
<path d="M1008.30,239.00 C1008.00,242.50 1007.67,252.75 1006.50,260.00 C1005.33,267.25 1002.38,275.50 1001.25,282.50 C1000.12,289.50 1000.38,296.92 999.75,302.00 C999.12,307.08 999.29,308.58 997.50,313.00 C995.71,317.42 994.25,322.67 989.00,328.50 C983.75,334.33 973.17,341.42 966.00,348.00 C958.83,354.58 952.00,363.00 946.00,368.00 C940.00,373.00 937.67,374.50 930.00,378.00 C922.33,381.50 909.90,384.83 900.00,389.00 C890.10,393.17 876.85,399.45 870.60,403.00 C864.35,406.55 864.40,407.72 862.50,410.30 C860.60,412.88 861.37,415.52 859.20,418.50 C857.03,421.48 852.07,425.50 849.50,428.20 C846.93,430.90 844.75,432.53 843.80,434.70 C842.85,436.87 843.40,439.57 843.80,441.20 C844.20,442.83 845.80,443.15 846.20,444.50 C846.60,445.85 845.65,447.42 846.20,449.30 C846.75,451.18 847.87,454.30 849.50,455.80 C851.13,457.30 854.78,456.93 856.00,458.30 C857.22,459.67 855.72,462.25 856.80,464.00 C857.88,465.75 859.93,467.73 862.50,468.80 C865.07,469.87 868.68,470.40 872.20,470.40 C875.72,470.40 880.35,467.03 883.60,468.80 C886.85,470.57 888.18,478.57 891.70,481.00 C895.22,483.43 899.82,483.80 904.70,483.40 C909.58,483.00 914.50,481.57 921.00,478.60 C927.50,475.63 936.53,468.70 943.70,465.60 C950.87,462.50 957.28,462.27 964.00,460.00 C970.72,457.73 977.33,456.00 984.00,452.00 C990.67,448.00 997.33,442.33 1004.00,436.00 C1010.67,429.67 1018.00,418.33 1024.00,414.00 C1030.00,409.67 1033.33,411.67 1040.00,410.00 C1046.67,408.33 1058.00,406.33 1064.00,404.00 C1070.00,401.67 1073.00,401.67 1076.00,396.00 C1079.00,390.33 1081.33,377.67 1082.00,370.00 C1082.67,362.33 1080.58,357.08 1080.00,350.00 C1079.42,342.92 1078.88,334.00 1078.50,327.50 C1078.12,321.00 1077.50,316.75 1077.75,311.00 C1078.00,305.25 1078.62,300.25 1080.00,293.00 C1081.38,285.75 1084.30,275.05 1086.00,267.50 C1087.70,259.95 1089.50,251.00 1090.20,247.70" fill="none" stroke="#f5c39e" stroke-width="2.3" stroke-linecap="round" stroke-linejoin="round"/>
<defs><filter id="bl" x="-50%" y="-50%" width="200%" height="200%"><feGaussianBlur stdDeviation="1.6"/></filter></defs>
<ellipse cx="1052.5" cy="413.5" rx="29" ry="12" transform="rotate(-14 1052.5 413.5)" fill="#ee7743" filter="url(#bl)" opacity="0.95"/>
<path d="M1008.30,239.00 C1008.00,242.50 1007.67,252.75 1006.50,260.00 C1005.33,267.25 1002.38,275.50 1001.25,282.50 C1000.12,289.50 1000.38,296.92 999.75,302.00 C999.12,307.08 999.29,308.58 997.50,313.00 C995.71,317.42 994.25,322.67 989.00,328.50 C983.75,334.33 973.17,341.42 966.00,348.00 C958.83,354.58 952.00,363.00 946.00,368.00 C940.00,373.00 937.67,374.50 930.00,378.00 C922.33,381.50 909.90,384.83 900.00,389.00 C890.10,393.17 876.85,399.45 870.60,403.00 C864.35,406.55 864.40,407.72 862.50,410.30 C860.60,412.88 861.37,415.52 859.20,418.50 C857.03,421.48 852.07,425.50 849.50,428.20 C846.93,430.90 844.75,432.53 843.80,434.70 C842.85,436.87 843.40,439.57 843.80,441.20 C844.20,442.83 845.80,443.15 846.20,444.50 C846.60,445.85 845.65,447.42 846.20,449.30 C846.75,451.18 847.87,454.30 849.50,455.80 C851.13,457.30 854.78,456.93 856.00,458.30 C857.22,459.67 855.72,462.25 856.80,464.00 C857.88,465.75 859.93,467.73 862.50,468.80 C865.07,469.87 868.68,470.40 872.20,470.40 C875.72,470.40 880.35,467.03 883.60,468.80 C886.85,470.57 888.18,478.57 891.70,481.00 C895.22,483.43 899.82,483.80 904.70,483.40 C909.58,483.00 914.50,481.57 921.00,478.60 C927.50,475.63 936.53,468.70 943.70,465.60 C950.87,462.50 957.28,462.27 964.00,460.00 C970.72,457.73 977.33,456.00 984.00,452.00 C990.67,448.00 997.33,442.33 1004.00,436.00 C1010.67,429.67 1018.00,418.33 1024.00,414.00 C1030.00,409.67 1033.33,411.67 1040.00,410.00 C1046.67,408.33 1058.00,406.33 1064.00,404.00 C1070.00,401.67 1073.00,401.67 1076.00,396.00 C1079.00,390.33 1081.33,377.67 1082.00,370.00 C1082.67,362.33 1080.58,357.08 1080.00,350.00 C1079.42,342.92 1078.88,334.00 1078.50,327.50 C1078.12,321.00 1077.50,316.75 1077.75,311.00 C1078.00,305.25 1078.62,300.25 1080.00,293.00 C1081.38,285.75 1084.30,275.05 1086.00,267.50 C1087.70,259.95 1089.50,251.00 1090.20,247.70" fill="none" stroke="#e8743f" stroke-width="1.5" stroke-linecap="round" clip-path="url(#blclip)"/>
<defs><clipPath id="blclip"><ellipse cx="1052.5" cy="413.5" rx="29" ry="12" transform="rotate(-14 1052.5 413.5)"/></clipPath></defs>
<g fill="#f4ebe5" stroke="#f3cdb4" stroke-width="1.3" stroke-linejoin="round"><path d="M844.75,435.00 C845.50,433.62 848.94,431.07 850.75,431.25 C852.56,431.43 855.48,434.48 855.60,436.10 C855.73,437.73 853.06,440.43 851.50,441.00 C849.94,441.57 847.38,440.50 846.25,439.50 C845.12,438.50 844.00,436.38 844.75,435.00 Z"/><path d="M849.25,441.75 C850.38,440.25 854.50,439.62 856.75,440.25 C859.00,440.88 861.88,443.75 862.75,445.50 C863.62,447.25 863.25,449.62 862.00,450.75 C860.75,451.88 857.25,452.50 855.25,452.25 C853.25,452.00 851.00,451.00 850.00,449.25 C849.00,447.50 848.12,443.25 849.25,441.75 Z"/><path d="M861.25,453.75 C862.38,452.12 866.62,449.38 869.50,449.25 C872.38,449.12 876.38,451.75 878.50,453.00 C880.62,454.25 882.50,455.38 882.25,456.75 C882.00,458.12 879.38,460.38 877.00,461.25 C874.62,462.12 870.38,462.38 868.00,462.00 C865.62,461.62 863.88,460.38 862.75,459.00 C861.62,457.62 860.12,455.38 861.25,453.75 Z"/><path d="M890.50,456.75 C891.88,454.25 901.12,448.12 905.50,447.75 C909.88,447.38 914.38,452.50 916.75,454.50 C919.12,456.50 921.62,457.38 919.75,459.75 C917.88,462.12 909.25,468.25 905.50,468.75 C901.75,469.25 899.75,464.75 897.25,462.75 C894.75,460.75 889.12,459.25 890.50,456.75 Z"/></g>
<g fill="#f5c39e"><path d="M885.93,417.81 L885.81,417.86 L885.68,417.90 L885.54,417.95 L885.39,418.00 L885.23,418.05 L885.06,418.11 L884.88,418.17 L884.70,418.23 L884.50,418.29 L884.30,418.36 L884.09,418.43 L883.87,418.50 L883.65,418.57 L883.42,418.65 L883.19,418.73 L882.95,418.81 L882.71,418.89 L882.46,418.97 L882.21,419.06 L881.95,419.14 L881.70,419.23 L881.44,419.32 L881.17,419.41 L880.91,419.50 L880.64,419.59 L880.38,419.69 L880.11,419.78 L879.85,419.88 L879.58,419.98 L879.31,420.07 L879.05,420.17 L878.79,420.27 L878.53,420.37 L878.27,420.47 L878.02,420.57 L877.77,420.67 L877.52,420.77 L877.27,420.88 L877.04,420.98 L876.80,421.08 L876.57,421.18 L876.35,421.28 L876.12,421.38 L875.90,421.48 L875.67,421.58 L875.45,421.68 L875.23,421.78 L875.01,421.88 L874.79,421.98 L874.57,422.09 L874.34,422.19 L874.12,422.29 L873.90,422.40 L873.68,422.50 L873.46,422.61 L873.24,422.72 L873.02,422.83 L872.80,422.94 L872.58,423.05 L872.35,423.16 L872.13,423.28 L871.91,423.39 L871.68,423.51 L871.45,423.63 L871.22,423.75 L871.00,423.88 L870.76,424.00 L870.53,424.13 L870.30,424.26 L870.06,424.40 L869.82,424.53 L869.59,424.67 L869.34,424.81 L869.10,424.95 L868.85,425.10 L868.61,425.25 L868.35,425.40 L868.10,425.56 L867.84,425.72 L867.58,425.88 L867.32,426.05 L867.05,426.22 L866.77,426.41 L866.49,426.60 L866.20,426.79 L865.90,426.99 L865.61,427.19 L865.31,427.40 L865.00,427.62 L864.70,427.84 L864.39,428.06 L864.08,428.28 L863.76,428.51 L863.45,428.74 L863.13,428.97 L862.82,429.20 L862.50,429.43 L862.19,429.66 L861.87,429.90 L861.56,430.13 L861.24,430.36 L860.93,430.59 L860.62,430.82 L860.31,431.05 L860.01,431.27 L859.71,431.50 L859.41,431.72 L859.12,431.93 L858.83,432.14 L858.55,432.35 L858.27,432.55 L858.00,432.75 L857.74,432.94 L857.48,433.12 L857.23,433.30 L856.99,433.47 L856.75,433.63 L856.52,433.79 L856.31,433.93 L856.10,434.07 L855.90,434.20 L855.70,434.33 L855.51,434.45 L855.32,434.57 L855.14,434.68 L854.96,434.79 L854.78,434.89 L854.61,434.99 L854.44,435.09 L854.28,435.18 L854.12,435.27 L853.96,435.36 L853.81,435.44 L853.66,435.52 L853.52,435.59 L853.38,435.67 L853.24,435.74 L853.11,435.80 L852.98,435.87 L852.85,435.93 L852.72,435.99 L852.60,436.05 L852.49,436.10 L852.37,436.16 L852.26,436.21 L852.15,436.26 L852.05,436.31 L851.94,436.35 L851.84,436.40 L851.74,436.44 L851.65,436.49 L851.55,436.53 L851.46,436.57 L851.37,436.61 L851.28,436.66 L851.19,436.70 L851.11,436.74 L851.02,436.78 L850.94,436.83 L850.86,436.87 L852.14,439.13 L852.20,439.10 L852.25,439.07 L852.31,439.03 L852.38,438.99 L852.45,438.96 L852.52,438.92 L852.60,438.87 L852.68,438.83 L852.77,438.78 L852.86,438.74 L852.96,438.69 L853.06,438.63 L853.16,438.58 L853.27,438.52 L853.38,438.46 L853.50,438.40 L853.61,438.34 L853.74,438.27 L853.86,438.20 L854.00,438.13 L854.13,438.06 L854.27,437.98 L854.41,437.90 L854.56,437.81 L854.71,437.72 L854.86,437.63 L855.02,437.54 L855.18,437.44 L855.34,437.34 L855.51,437.23 L855.68,437.12 L855.86,437.01 L856.03,436.89 L856.22,436.76 L856.40,436.64 L856.60,436.51 L856.79,436.37 L856.99,436.23 L857.19,436.08 L857.40,435.93 L857.61,435.77 L857.83,435.60 L858.06,435.43 L858.30,435.24 L858.54,435.05 L858.79,434.86 L859.04,434.65 L859.30,434.45 L859.57,434.23 L859.84,434.01 L860.11,433.79 L860.39,433.56 L860.67,433.32 L860.96,433.09 L861.25,432.85 L861.54,432.61 L861.83,432.36 L862.13,432.12 L862.43,431.87 L862.73,431.62 L863.03,431.37 L863.33,431.12 L863.63,430.87 L863.93,430.63 L864.23,430.38 L864.53,430.14 L864.83,429.89 L865.12,429.65 L865.42,429.41 L865.71,429.18 L866.00,428.95 L866.29,428.72 L866.57,428.50 L866.85,428.29 L867.12,428.08 L867.39,427.87 L867.66,427.67 L867.92,427.48 L868.17,427.30 L868.42,427.12 L868.66,426.95 L868.90,426.78 L869.14,426.62 L869.38,426.45 L869.61,426.29 L869.84,426.14 L870.07,425.98 L870.30,425.83 L870.53,425.69 L870.75,425.54 L870.98,425.40 L871.20,425.26 L871.42,425.12 L871.64,424.99 L871.85,424.85 L872.07,424.72 L872.29,424.59 L872.50,424.46 L872.71,424.34 L872.93,424.21 L873.14,424.09 L873.35,423.97 L873.56,423.85 L873.77,423.73 L873.98,423.61 L874.20,423.50 L874.41,423.38 L874.62,423.27 L874.83,423.15 L875.04,423.04 L875.25,422.93 L875.46,422.81 L875.68,422.70 L875.89,422.59 L876.11,422.48 L876.32,422.37 L876.54,422.26 L876.76,422.14 L876.98,422.03 L877.20,421.92 L877.42,421.81 L877.65,421.70 L877.88,421.59 L878.12,421.47 L878.36,421.36 L878.60,421.25 L878.85,421.14 L879.10,421.02 L879.35,420.91 L879.61,420.80 L879.86,420.69 L880.12,420.58 L880.38,420.47 L880.64,420.36 L880.90,420.25 L881.15,420.15 L881.41,420.04 L881.67,419.94 L881.92,419.83 L882.17,419.73 L882.42,419.63 L882.67,419.54 L882.91,419.44 L883.15,419.34 L883.38,419.25 L883.61,419.16 L883.83,419.08 L884.05,418.99 L884.26,418.91 L884.47,418.83 L884.67,418.75 L884.86,418.67 L885.04,418.60 L885.21,418.53 L885.38,418.47 L885.54,418.40 L885.69,418.34 L885.83,418.29 L885.95,418.24 L886.07,418.19 Z"/><path d="M897.15,426.92 L896.97,427.02 L896.76,427.12 L896.54,427.23 L896.30,427.35 L896.05,427.47 L895.78,427.60 L895.50,427.74 L895.21,427.88 L894.90,428.02 L894.58,428.17 L894.25,428.33 L893.91,428.49 L893.56,428.66 L893.20,428.83 L892.83,429.01 L892.45,429.19 L892.07,429.37 L891.68,429.56 L891.28,429.75 L890.88,429.95 L890.47,430.15 L890.06,430.36 L889.64,430.56 L889.23,430.77 L888.81,430.99 L888.38,431.20 L887.96,431.42 L887.53,431.65 L887.11,431.87 L886.69,432.10 L886.27,432.33 L885.85,432.56 L885.43,432.79 L885.01,433.02 L884.60,433.26 L884.20,433.50 L883.80,433.74 L883.40,433.98 L883.01,434.22 L882.63,434.46 L882.25,434.71 L881.86,434.96 L881.47,435.23 L881.07,435.50 L880.67,435.78 L880.26,436.06 L879.85,436.36 L879.44,436.65 L879.02,436.96 L878.60,437.27 L878.18,437.58 L877.76,437.89 L877.34,438.21 L876.91,438.53 L876.49,438.86 L876.07,439.18 L875.64,439.51 L875.22,439.84 L874.80,440.16 L874.39,440.49 L873.97,440.82 L873.56,441.14 L873.15,441.46 L872.75,441.78 L872.35,442.10 L871.96,442.41 L871.57,442.71 L871.19,443.02 L870.81,443.31 L870.44,443.60 L870.08,443.89 L869.73,444.17 L869.39,444.44 L869.05,444.70 L868.73,444.95 L868.41,445.19 L868.11,445.43 L867.81,445.65 L867.53,445.86 L867.26,446.06 L867.00,446.26 L866.75,446.45 L866.50,446.63 L866.26,446.81 L866.02,446.98 L865.80,447.14 L865.58,447.30 L865.36,447.45 L865.16,447.60 L864.96,447.75 L864.76,447.88 L864.58,448.02 L864.39,448.15 L864.22,448.27 L864.05,448.39 L863.88,448.51 L863.72,448.62 L863.57,448.72 L863.42,448.83 L863.28,448.93 L863.14,449.02 L863.00,449.12 L862.87,449.21 L862.74,449.29 L862.62,449.38 L862.50,449.46 L862.39,449.54 L862.28,449.61 L862.17,449.68 L862.07,449.76 L861.96,449.82 L861.87,449.89 L861.77,449.96 L861.68,450.02 L861.59,450.08 L861.50,450.14 L861.41,450.20 L861.32,450.26 L861.24,450.32 L861.16,450.38 L862.84,452.62 L862.91,452.56 L862.98,452.51 L863.06,452.45 L863.14,452.39 L863.22,452.32 L863.30,452.26 L863.39,452.19 L863.48,452.12 L863.57,452.05 L863.67,451.98 L863.77,451.90 L863.87,451.82 L863.98,451.74 L864.09,451.65 L864.21,451.57 L864.33,451.47 L864.45,451.38 L864.58,451.28 L864.71,451.18 L864.85,451.07 L864.99,450.96 L865.14,450.85 L865.29,450.73 L865.44,450.61 L865.61,450.48 L865.77,450.35 L865.94,450.21 L866.12,450.07 L866.31,449.92 L866.49,449.77 L866.69,449.61 L866.89,449.45 L867.10,449.28 L867.31,449.11 L867.53,448.93 L867.76,448.74 L867.99,448.55 L868.23,448.35 L868.48,448.15 L868.74,447.94 L869.00,447.71 L869.28,447.48 L869.57,447.23 L869.87,446.98 L870.17,446.71 L870.49,446.44 L870.81,446.15 L871.14,445.86 L871.48,445.56 L871.83,445.26 L872.18,444.95 L872.54,444.63 L872.90,444.30 L873.27,443.98 L873.65,443.64 L874.03,443.31 L874.41,442.97 L874.80,442.62 L875.19,442.28 L875.58,441.93 L875.98,441.59 L876.38,441.24 L876.78,440.89 L877.18,440.55 L877.58,440.20 L877.98,439.86 L878.38,439.51 L878.78,439.18 L879.18,438.84 L879.58,438.51 L879.97,438.18 L880.37,437.86 L880.76,437.55 L881.14,437.24 L881.53,436.93 L881.91,436.64 L882.28,436.35 L882.65,436.07 L883.01,435.80 L883.37,435.54 L883.73,435.29 L884.09,435.03 L884.46,434.78 L884.84,434.52 L885.23,434.27 L885.61,434.01 L886.01,433.76 L886.41,433.51 L886.81,433.26 L887.21,433.01 L887.62,432.76 L888.02,432.51 L888.43,432.27 L888.84,432.03 L889.24,431.79 L889.65,431.56 L890.05,431.33 L890.45,431.10 L890.85,430.87 L891.25,430.65 L891.64,430.43 L892.02,430.22 L892.40,430.01 L892.77,429.80 L893.14,429.60 L893.49,429.40 L893.84,429.21 L894.18,429.03 L894.51,428.85 L894.83,428.67 L895.14,428.50 L895.44,428.34 L895.73,428.18 L896.00,428.03 L896.26,427.89 L896.51,427.75 L896.74,427.62 L896.96,427.50 L897.16,427.38 L897.35,427.28 Z"/><path d="M920.43,438.91 L920.23,438.98 L920.02,439.05 L919.79,439.13 L919.54,439.21 L919.27,439.30 L918.99,439.39 L918.69,439.49 L918.38,439.58 L918.06,439.69 L917.72,439.79 L917.37,439.90 L917.02,440.02 L916.65,440.13 L916.27,440.25 L915.88,440.38 L915.48,440.50 L915.08,440.63 L914.67,440.77 L914.25,440.90 L913.82,441.04 L913.40,441.18 L912.96,441.33 L912.53,441.48 L912.09,441.62 L911.65,441.78 L911.21,441.93 L910.77,442.09 L910.32,442.24 L909.88,442.41 L909.44,442.57 L909.00,442.73 L908.57,442.90 L908.14,443.07 L907.71,443.24 L907.29,443.41 L906.87,443.58 L906.46,443.75 L906.06,443.93 L905.66,444.10 L905.27,444.28 L904.89,444.46 L904.50,444.65 L904.10,444.84 L903.70,445.04 L903.29,445.24 L902.89,445.45 L902.47,445.66 L902.06,445.88 L901.64,446.10 L901.22,446.32 L900.80,446.54 L900.38,446.77 L899.96,447.01 L899.53,447.24 L899.11,447.48 L898.69,447.71 L898.27,447.95 L897.85,448.19 L897.44,448.43 L897.02,448.67 L896.61,448.91 L896.20,449.15 L895.80,449.39 L895.40,449.63 L895.01,449.86 L894.62,450.10 L894.24,450.33 L893.86,450.56 L893.49,450.79 L893.13,451.02 L892.77,451.24 L892.43,451.46 L892.09,451.67 L891.76,451.88 L891.44,452.09 L891.13,452.29 L890.83,452.48 L890.54,452.67 L890.26,452.86 L890.00,453.04 L889.74,453.21 L889.50,453.38 L889.26,453.54 L889.03,453.70 L888.81,453.86 L888.60,454.01 L888.40,454.16 L888.20,454.31 L888.01,454.45 L887.83,454.59 L887.66,454.73 L887.49,454.86 L887.32,455.00 L887.17,455.13 L887.02,455.26 L886.87,455.39 L886.73,455.52 L886.59,455.64 L886.46,455.77 L886.34,455.90 L886.21,456.02 L886.10,456.15 L885.98,456.27 L885.87,456.39 L885.76,456.52 L885.66,456.64 L885.55,456.77 L885.45,456.89 L885.36,457.02 L885.26,457.15 L885.17,457.27 L885.08,457.40 L884.99,457.53 L884.90,457.66 L884.81,457.79 L884.72,457.92 L884.64,458.06 L884.55,458.19 L884.46,458.33 L884.37,458.48 L884.28,458.63 L884.19,458.78 L884.10,458.94 L884.01,459.09 L883.93,459.25 L883.86,459.40 L883.78,459.56 L883.71,459.72 L883.64,459.87 L883.57,460.03 L883.51,460.19 L883.45,460.35 L883.39,460.51 L883.34,460.66 L883.29,460.82 L883.24,460.98 L883.19,461.14 L883.15,461.30 L883.11,461.46 L883.07,461.62 L883.03,461.78 L882.99,461.95 L882.96,462.11 L882.93,462.27 L882.90,462.43 L882.87,462.60 L882.84,462.76 L882.82,462.92 L882.79,463.09 L882.77,463.25 L882.75,463.42 L882.73,463.58 L882.71,463.75 L882.69,463.92 L882.68,464.09 L882.66,464.25 L882.64,464.42 L882.63,464.59 L882.62,464.76 L882.60,464.94 L882.59,465.13 L882.58,465.33 L882.58,465.53 L882.57,465.74 L882.57,465.95 L882.58,466.16 L882.58,466.38 L882.59,466.59 L882.60,466.81 L882.61,467.04 L882.63,467.26 L882.64,467.48 L882.66,467.71 L882.68,467.94 L882.70,468.16 L882.72,468.39 L882.74,468.62 L882.76,468.84 L882.79,469.06 L882.81,469.28 L882.83,469.50 L882.86,469.72 L882.88,469.93 L882.91,470.14 L882.93,470.35 L882.96,470.55 L882.98,470.75 L883.01,470.94 L883.03,471.12 L883.05,471.30 L883.08,471.47 L883.10,471.64 L883.12,471.80 L883.13,471.95 L883.15,472.09 L883.17,472.22 L883.18,472.34 L883.19,472.45 L883.20,472.55 L883.21,472.64 L885.79,472.36 L885.78,472.26 L885.76,472.14 L885.74,472.01 L885.72,471.88 L885.70,471.74 L885.68,471.59 L885.65,471.43 L885.63,471.27 L885.60,471.11 L885.57,470.93 L885.54,470.75 L885.51,470.57 L885.48,470.38 L885.45,470.19 L885.42,469.99 L885.38,469.79 L885.35,469.59 L885.32,469.38 L885.28,469.18 L885.25,468.97 L885.22,468.75 L885.19,468.54 L885.16,468.33 L885.13,468.11 L885.10,467.90 L885.07,467.69 L885.05,467.48 L885.02,467.27 L885.00,467.06 L884.98,466.85 L884.96,466.65 L884.95,466.45 L884.93,466.26 L884.92,466.07 L884.91,465.89 L884.90,465.71 L884.90,465.54 L884.89,465.37 L884.89,465.21 L884.90,465.06 L884.90,464.90 L884.91,464.74 L884.92,464.58 L884.92,464.42 L884.93,464.26 L884.94,464.11 L884.95,463.95 L884.96,463.80 L884.97,463.65 L884.99,463.50 L885.00,463.35 L885.02,463.21 L885.03,463.07 L885.05,462.92 L885.07,462.78 L885.09,462.64 L885.11,462.50 L885.13,462.37 L885.16,462.23 L885.18,462.09 L885.21,461.96 L885.24,461.83 L885.27,461.70 L885.30,461.56 L885.34,461.43 L885.38,461.31 L885.41,461.18 L885.45,461.05 L885.50,460.92 L885.54,460.79 L885.59,460.67 L885.64,460.54 L885.69,460.41 L885.74,460.29 L885.80,460.16 L885.86,460.03 L885.92,459.91 L885.99,459.78 L886.06,459.65 L886.13,459.52 L886.21,459.39 L886.28,459.26 L886.36,459.12 L886.44,459.00 L886.51,458.88 L886.58,458.75 L886.66,458.64 L886.73,458.52 L886.80,458.41 L886.88,458.30 L886.95,458.19 L887.03,458.08 L887.11,457.98 L887.19,457.87 L887.27,457.76 L887.35,457.66 L887.44,457.55 L887.53,457.45 L887.63,457.34 L887.73,457.23 L887.83,457.12 L887.94,457.01 L888.05,456.89 L888.16,456.78 L888.29,456.66 L888.42,456.54 L888.55,456.42 L888.69,456.29 L888.84,456.16 L889.00,456.03 L889.16,455.89 L889.33,455.75 L889.51,455.60 L889.70,455.46 L889.89,455.30 L890.09,455.14 L890.31,454.98 L890.53,454.81 L890.76,454.64 L891.00,454.46 L891.25,454.28 L891.52,454.09 L891.79,453.89 L892.08,453.69 L892.38,453.48 L892.68,453.26 L893.00,453.04 L893.32,452.82 L893.66,452.59 L894.00,452.35 L894.35,452.12 L894.71,451.88 L895.07,451.63 L895.44,451.39 L895.81,451.14 L896.19,450.89 L896.58,450.64 L896.97,450.39 L897.36,450.13 L897.76,449.88 L898.16,449.63 L898.56,449.37 L898.97,449.12 L899.37,448.87 L899.78,448.61 L900.19,448.36 L900.60,448.12 L901.01,447.87 L901.41,447.63 L901.82,447.39 L902.23,447.15 L902.63,446.92 L903.03,446.69 L903.43,446.46 L903.82,446.24 L904.21,446.02 L904.60,445.81 L904.98,445.61 L905.36,445.41 L905.73,445.22 L906.10,445.03 L906.48,444.84 L906.87,444.66 L907.26,444.47 L907.67,444.28 L908.08,444.10 L908.49,443.91 L908.91,443.73 L909.33,443.55 L909.76,443.37 L910.19,443.19 L910.62,443.02 L911.05,442.84 L911.49,442.67 L911.92,442.50 L912.35,442.33 L912.78,442.16 L913.21,442.00 L913.63,441.84 L914.05,441.68 L914.47,441.53 L914.88,441.38 L915.28,441.23 L915.68,441.08 L916.07,440.94 L916.45,440.80 L916.83,440.66 L917.19,440.53 L917.54,440.40 L917.89,440.28 L918.22,440.16 L918.54,440.05 L918.84,439.93 L919.14,439.83 L919.42,439.73 L919.68,439.63 L919.93,439.54 L920.16,439.45 L920.37,439.36 L920.57,439.29 Z"/><path d="M882.69,407.67 L882.55,407.73 L882.40,407.80 L882.23,407.87 L882.05,407.94 L881.85,408.02 L881.65,408.10 L881.43,408.18 L881.21,408.27 L880.98,408.36 L880.73,408.46 L880.48,408.56 L880.22,408.66 L879.95,408.76 L879.68,408.87 L879.40,408.98 L879.11,409.10 L878.81,409.21 L878.52,409.33 L878.21,409.45 L877.91,409.58 L877.60,409.70 L877.28,409.83 L876.96,409.96 L876.65,410.09 L876.33,410.23 L876.00,410.36 L875.68,410.50 L875.36,410.64 L875.04,410.78 L874.72,410.92 L874.40,411.07 L874.08,411.21 L873.76,411.35 L873.45,411.50 L873.14,411.65 L872.83,411.80 L872.53,411.94 L872.23,412.09 L871.94,412.24 L871.65,412.39 L871.36,412.55 L871.07,412.71 L870.77,412.88 L870.46,413.05 L870.15,413.23 L869.84,413.41 L869.52,413.60 L869.20,413.79 L868.87,413.99 L868.55,414.19 L868.22,414.39 L867.89,414.60 L867.56,414.80 L867.22,415.01 L866.89,415.22 L866.56,415.43 L866.23,415.64 L865.91,415.85 L865.58,416.06 L865.26,416.27 L864.94,416.48 L864.63,416.68 L864.32,416.88 L864.02,417.08 L863.72,417.28 L863.43,417.47 L863.14,417.66 L862.87,417.84 L862.60,418.02 L862.34,418.20 L862.08,418.36 L861.84,418.52 L861.61,418.68 L861.39,418.82 L861.18,418.96 L860.98,419.09 L860.79,419.21 L860.62,419.32 L860.47,419.42 L860.32,419.51 L861.68,421.49 L861.82,421.38 L861.98,421.26 L862.15,421.14 L862.33,421.00 L862.52,420.85 L862.72,420.70 L862.94,420.53 L863.16,420.36 L863.39,420.18 L863.63,420.00 L863.87,419.81 L864.13,419.61 L864.39,419.40 L864.66,419.20 L864.94,418.98 L865.22,418.77 L865.50,418.55 L865.79,418.32 L866.09,418.10 L866.39,417.87 L866.69,417.64 L866.99,417.41 L867.30,417.18 L867.61,416.94 L867.92,416.71 L868.23,416.48 L868.54,416.25 L868.85,416.02 L869.16,415.80 L869.47,415.58 L869.77,415.36 L870.08,415.14 L870.38,414.93 L870.67,414.72 L870.97,414.52 L871.25,414.32 L871.54,414.13 L871.81,413.95 L872.09,413.77 L872.35,413.61 L872.61,413.44 L872.88,413.28 L873.16,413.11 L873.44,412.94 L873.73,412.78 L874.02,412.61 L874.32,412.45 L874.61,412.28 L874.92,412.12 L875.22,411.95 L875.52,411.79 L875.83,411.63 L876.14,411.47 L876.45,411.31 L876.75,411.15 L877.06,410.99 L877.37,410.84 L877.67,410.68 L877.97,410.53 L878.27,410.39 L878.56,410.24 L878.86,410.10 L879.14,409.96 L879.43,409.82 L879.70,409.68 L879.98,409.55 L880.24,409.43 L880.50,409.30 L880.75,409.18 L881.00,409.06 L881.23,408.95 L881.46,408.84 L881.68,408.73 L881.88,408.63 L882.08,408.54 L882.27,408.45 L882.45,408.36 L882.61,408.28 L882.77,408.20 L882.91,408.13 Z"/><path d="M969.73,456.33 L969.55,456.39 L969.35,456.44 L969.14,456.50 L968.91,456.57 L968.66,456.64 L968.40,456.71 L968.12,456.79 L967.83,456.87 L967.52,456.95 L967.21,457.04 L966.88,457.13 L966.55,457.23 L966.20,457.32 L965.84,457.42 L965.48,457.52 L965.11,457.62 L964.73,457.73 L964.34,457.84 L963.95,457.95 L963.56,458.06 L963.16,458.17 L962.76,458.29 L962.35,458.40 L961.95,458.52 L961.54,458.64 L961.14,458.75 L960.73,458.87 L960.32,458.99 L959.92,459.11 L959.52,459.23 L959.12,459.36 L958.73,459.48 L958.34,459.60 L957.96,459.72 L957.58,459.84 L957.21,459.96 L956.85,460.08 L956.50,460.19 L956.15,460.31 L955.82,460.43 L955.49,460.54 L955.15,460.66 L954.81,460.79 L954.47,460.92 L954.12,461.05 L953.77,461.18 L953.42,461.32 L953.07,461.46 L952.71,461.60 L952.35,461.74 L952.00,461.88 L951.64,462.03 L951.29,462.18 L950.93,462.32 L950.58,462.47 L950.23,462.62 L949.88,462.77 L949.53,462.91 L949.19,463.06 L948.85,463.20 L948.52,463.35 L948.19,463.49 L947.86,463.63 L947.54,463.77 L947.23,463.90 L946.93,464.04 L946.63,464.17 L946.34,464.29 L946.06,464.42 L945.79,464.54 L945.52,464.65 L945.27,464.76 L945.02,464.87 L944.79,464.97 L944.57,465.07 L944.36,465.16 L944.16,465.24 L943.98,465.32 L943.81,465.39 L943.65,465.46 L943.75,465.74 L943.92,465.69 L944.09,465.62 L944.28,465.56 L944.49,465.49 L944.70,465.41 L944.93,465.33 L945.17,465.24 L945.42,465.15 L945.68,465.06 L945.96,464.96 L946.24,464.86 L946.53,464.76 L946.82,464.65 L947.13,464.54 L947.44,464.43 L947.76,464.32 L948.09,464.20 L948.42,464.09 L948.76,463.97 L949.10,463.85 L949.45,463.73 L949.80,463.60 L950.15,463.48 L950.51,463.36 L950.87,463.24 L951.23,463.11 L951.59,462.99 L951.95,462.87 L952.32,462.75 L952.68,462.63 L953.04,462.52 L953.40,462.40 L953.76,462.29 L954.12,462.18 L954.47,462.07 L954.82,461.96 L955.17,461.86 L955.51,461.76 L955.85,461.67 L956.18,461.57 L956.51,461.48 L956.86,461.39 L957.21,461.30 L957.57,461.21 L957.95,461.12 L958.32,461.03 L958.71,460.93 L959.10,460.84 L959.50,460.75 L959.90,460.66 L960.30,460.56 L960.71,460.47 L961.12,460.38 L961.53,460.29 L961.94,460.20 L962.35,460.11 L962.76,460.02 L963.17,459.94 L963.58,459.85 L963.98,459.77 L964.38,459.68 L964.77,459.60 L965.16,459.52 L965.55,459.44 L965.92,459.36 L966.29,459.29 L966.65,459.21 L967.01,459.14 L967.35,459.07 L967.68,459.01 L968.00,458.94 L968.31,458.88 L968.61,458.82 L968.89,458.76 L969.16,458.70 L969.41,458.65 L969.65,458.60 L969.88,458.55 L970.08,458.51 L970.27,458.47 Z"/></g>
<path d="M1054,414 L1043.8,432 L1064.8,432 Z" fill="#e85516"/>
<rect x="1053" y="430" width="3" height="82" fill="#e85516"/>
<path d="M1046.3,499.6 L1061.5,500.3 L1068,514 L1060.8,526.7 L1045,526.1 L1038.5,512.4 Z" fill="#f39800"/>
<rect x="1053" y="499" width="3" height="13" fill="#e85516"/>
<g fill="none" stroke-linecap="round" stroke-linejoin="round"><path d="M685.7,65.4 L685.7,54 Q685.7,50.4 689.3,50.4 L694.4,50.4" stroke="#231815" stroke-width="6.2"/><path d="M685.7,65.4 L685.7,54 Q685.7,50.4 689.3,50.4 L694.4,50.4" stroke="#fff" stroke-width="3"/><path d="M1077.7,69.8 L1077.7,81.6 Q1077.7,85.2 1074.1,85.2 L1068.1,85.2" stroke="#231815" stroke-width="6.2"/><path d="M1077.7,69.8 L1077.7,81.6 Q1077.7,85.2 1074.1,85.2 L1068.1,85.2" stroke="#fff" stroke-width="3"/><path d="M251.1,137.2 L251.1,126.2 Q251.1,122.6 254.7,122.6 L259.4,122.6" stroke="#231815" stroke-width="6.2"/><path d="M251.1,137.2 L251.1,126.2 Q251.1,122.6 254.7,122.6 L259.4,122.6" stroke="#fff" stroke-width="3"/><path d="M725.2,141.8 L725.2,152.8 Q725.2,156.4 721.6,156.4 L715.6,156.4" stroke="#231815" stroke-width="6.2"/><path d="M725.2,141.8 L725.2,152.8 Q725.2,156.4 721.6,156.4 L715.6,156.4" stroke="#fff" stroke-width="3"/></g>
</svg>
<div class="t" style="left:79.49px;top:47.93px;transform:scale(0.3726,0.3838)">体</div>
<div class="t" style="left:126.86px;top:49.25px;transform:scale(0.3208,0.3641)">の</div>
<div class="t" style="left:170.81px;top:49.79px;transform:scale(0.3225,0.3513)">バ</div>
<div class="t" style="left:217.77px;top:47.11px;transform:scale(0.3364,0.3828)">ラ</div>
<div class="t" style="left:260.94px;top:52.43px;transform:scale(0.3624,0.3380)">ン</div>
<div class="t" style="left:304.66px;top:50.08px;transform:scale(0.3795,0.3486)">ス</div>
<div class="t" style="left:349.77px;top:51.35px;transform:scale(0.3433,0.3422)">セ</div>
<div class="t" style="left:396.74px;top:52.43px;transform:scale(0.3624,0.3380)">ン</div>
<div class="t" style="left:438.39px;top:50.67px;transform:scale(0.4074,0.3533)">サ</div>
<div class="t" style="left:485.78px;top:48.43px;transform:scale(0.3593,0.4143)">ー</div>
<div class="t" style="left:533.52px;top:49.32px;transform:scale(0.3398,0.3488)">で</div>
<div class="t" style="left:577.24px;top:47.91px;transform:scale(0.3522,0.3608)">あ</div>
<div class="t" style="left:625.37px;top:49.83px;transform:scale(0.3049,0.3472)">る</div>
<div class="t" style="left:704.91px;top:51.41px;transform:scale(0.3582,0.3659)">メ</div>
<div class="t" style="left:751.09px;top:48.39px;transform:scale(0.3518,0.3774)">カ</div>
<div class="t" style="left:794.25px;top:51.63px;transform:scale(0.3608,0.3476)">ノ</div>
<div class="t" style="left:844.17px;top:50.67px;transform:scale(0.3438,0.3423)">レ</div>
<div class="t" style="left:884.74px;top:51.35px;transform:scale(0.3522,0.3422)">セ</div>
<div class="t" style="left:932.56px;top:49.55px;transform:scale(0.3490,0.3545)">プ</div>
<div class="t" style="left:974.01px;top:50.11px;transform:scale(0.3846,0.3421)">タ</div>
<div class="t" style="left:1021.69px;top:48.43px;transform:scale(0.3581,0.4143)">ー</div>
<div class="t" style="left:1106.15px;top:48.83px;transform:scale(0.3069,0.3589)">を</div>
<div class="t" style="left:269.67px;top:120.50px;transform:scale(0.3540,0.3802)">ア</div>
<div class="t" style="left:316.61px;top:124.06px;transform:scale(0.3693,0.3313)">シ</div>
<div class="t" style="left:360.56px;top:122.08px;transform:scale(0.3784,0.3486)">ス</div>
<div class="t" style="left:406.91px;top:118.47px;transform:scale(0.3511,0.3933)">ト</div>
<div class="t" style="left:439.44px;top:116.90px;transform:scale(0.4600,0.4600)">・</div>
<div class="t" style="left:490.23px;top:123.21px;transform:scale(0.3442,0.3745)">ヘ</div>
<div class="t" style="left:534.25px;top:120.84px;transform:scale(0.3506,0.3659)">キ</div>
<div class="t" style="left:576.70px;top:120.88px;transform:scale(0.3989,0.3620)">サ</div>
<div class="t" style="left:623.56px;top:122.13px;transform:scale(0.3581,0.3333)">ゴ</div>
<div class="t" style="left:670.12px;top:123.65px;transform:scale(0.3529,0.3367)">ン</div>
<div class="t" style="left:752.50px;top:122.52px;transform:scale(0.3769,0.3302)">が</div>
<div class="t" style="left:795.90px;top:120.88px;transform:scale(0.3989,0.3620)">サ</div>
<div class="t" style="left:844.20px;top:121.00px;transform:scale(0.3351,0.3591)">ポ</div>
<div class="t" style="left:887.42px;top:117.34px;transform:scale(0.3686,0.4714)">ー</div>
<div class="t" style="left:933.43px;top:118.47px;transform:scale(0.3533,0.3933)">ト</div>
<div class="b" style="left:257.54px;top:275.36px;font-size:22.23px;line-height:22.23px;letter-spacing:2.220px;">前に</div>
<div class="b" style="left:247.00px;top:306.73px;font-size:21.40px;line-height:21.40px;letter-spacing:1.690px;">傾いて</div>
<div class="b" style="left:234.51px;top:335.31px;font-size:22.15px;line-height:22.15px;letter-spacing:1.380px;">います！</div>
<div class="b" style="left:296.00px;top:410.32px;font-size:20.65px;line-height:20.65px;letter-spacing:3.574px;">地面が</div>
<div class="b" style="left:306.43px;top:439.56px;font-size:22.15px;line-height:22.15px;letter-spacing:4.623px;">凸凹</div>
<div class="b" style="left:297.00px;top:470.25px;font-size:20.94px;line-height:20.94px;letter-spacing:3.034px;">です！</div>
<div class="b" style="left:223.87px;top:527.81px;font-size:21.44px;line-height:21.44px;letter-spacing:4.100px;">右に</div>
<div class="b" style="left:212.48px;top:556.74px;font-size:21.39px;line-height:21.39px;letter-spacing:1.748px;">傾いて</div>
<div class="b" style="left:200.69px;top:585.31px;font-size:22.15px;line-height:22.15px;letter-spacing:1.380px;">います！</div>
<div class="c" style="left:19.32px;top:713.56px;font-size:23.05px;line-height:23.05px;letter-spacing:0.320px;">メカノレセプターから</div>
<div class="c" style="left:56.69px;top:747.66px;font-size:23.49px;line-height:23.49px;letter-spacing:1.122px;">脳に情報を伝達</div>
<div class="c" style="left:480.84px;top:714.21px;font-size:23.15px;line-height:23.15px;letter-spacing:0.781px;">全身の筋肉を調整して</div>
<div class="c" style="left:480.85px;top:747.61px;font-size:22.72px;line-height:22.72px;letter-spacing:0.378px;">最適なバランスにする</div>
<div class="c" style="left:797.57px;top:608.51px;font-size:25.22px;line-height:25.22px;letter-spacing:0.446px;">オレンジのヘキサゴンチップが、</div>
<div class="c" style="left:810.01px;top:643.75px;font-size:25.65px;line-height:25.65px;letter-spacing:-0.276px;">『メカノレセプター』が多い</div>
<div class="c" style="left:851.23px;top:679.52px;font-size:25.58px;line-height:25.58px;letter-spacing:-0.236px;">かかと中心部を刺激し、</div>
<div class="c" style="left:883.49px;top:713.64px;font-size:25.61px;line-height:25.61px;letter-spacing:0.105px;">正常に作動させる</div>
</body></html>
